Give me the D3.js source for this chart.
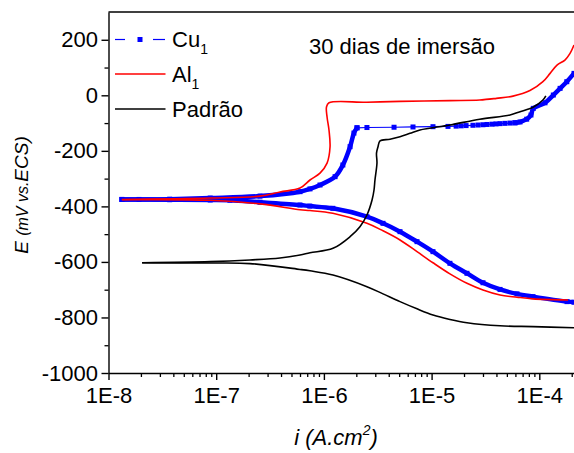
<!DOCTYPE html>
<html>
<head>
<meta charset="utf-8">
<script src="https://cdn.jsdelivr.net/npm/d3@7"></script>
<style>
  body { margin: 0; background: #fff; }
  svg text { font-family: "Liberation Sans", Arial, sans-serif; fill: #000; }
</style>
</head>
<body>
<div id="chart"></div>
<script>
const width = 574;
const height = 453;

// dados: [i (A/cm2), E (mV vs. ECS)]
const cuCathodic = [
  [1.33e-8, -375], [3.7e-8, -376], [8.8e-8, -377], [1.34e-7, -378], [2.55e-7, -385],
  [6.0e-7, -395], [7.4e-7, -399], [1.21e-6, -407], [2.51e-6, -437], [3.54e-6, -461],
  [5.09e-6, -491], [7.32e-6, -527], [1.03e-5, -563], [1.48e-5, -605], [2.13e-5, -641],
  [3.0e-5, -675], [4.32e-5, -699], [6.21e-5, -715], [8.74e-5, -725], [1.81e-4, -743],
  [2.1e-4, -745]
];
const cuAnodic = [
  [1.33e-8, -375], [1.92e-8, -375], [3.7e-8, -374], [8.8e-8, -370], [2.55e-7, -363],
  [6.0e-7, -347], [7.43e-7, -337], [9.2e-7, -323], [1.27e-6, -293], [1.5e-6, -251],
  [1.75e-6, -185], [1.9e-6, -136], [2.03e-6, -117]
];
const cuPlateau = [
  [2.03e-6, -117], [2.51e-6, -116], [4.48e-6, -115], [6.72e-6, -114], [1.03e-5, -113],
  [1.42e-5, -112], [1.69e-5, -111], [1.88e-5, -110], [2.09e-5, -109], [2.42e-5, -108],
  [2.7e-5, -107], [3.0e-5, -106], [3.27e-5, -105], [3.64e-5, -104], [3.96e-5, -103],
  [4.32e-5, -102], [4.8e-5, -101], [5.35e-5, -100], [5.95e-5, -99]
];
const cuPitting = [
  [5.95e-5, -99], [6.62e-5, -96], [7.64e-5, -86], [8.37e-5, -71], [8.8e-5, -47],
  [1.13e-4, -27], [1.35e-4, 1], [1.56e-4, 25], [1.8e-4, 49], [2.1e-4, 79]
];

const alCathodic = [
  [1.33e-8, -376], [8.8e-8, -378], [2.55e-7, -391], [6.0e-7, -412], [7.43e-7, -415],
  [1.21e-6, -425], [2.51e-6, -461], [3.54e-6, -488], [5.09e-6, -521], [7.32e-6, -563],
  [1.03e-5, -603], [1.48e-5, -643], [2.13e-5, -677], [3.0e-5, -701], [4.32e-5, -719],
  [6.21e-5, -727], [8.74e-5, -733], [1.85e-4, -737]
];
const alAnodic = [
  [1.33e-8, -375], [8.8e-8, -370], [2.55e-7, -363], [3.91e-7, -348], [6.0e-7, -334],
  [7.43e-7, -305], [9.2e-7, -280], [1.07e-6, -244], [1.14e-6, -186], [1.115e-6, -125],
  [1.07e-6, -78], [1.057e-6, -42], [1.115e-6, -27], [2.5e-6, -25], [5.09e-6, -22],
  [1.48e-5, -19], [2.8e-5, -17], [4.0e-5, -11], [5.7e-5, -3], [8.19e-5, 17],
  [1.08e-4, 49], [1.26e-4, 79], [1.46e-4, 109], [1.73e-4, 127], [1.93e-4, 151],
  [2.1e-4, 181]
];

const padCathodic = [
  [2.05e-8, -603], [8.8e-8, -604], [2.06e-7, -606], [6.0e-7, -627], [7.43e-7, -632],
  [1.215e-6, -647], [2.51e-6, -689], [3.54e-6, -715], [5.09e-6, -743], [7.32e-6, -769],
  [1.03e-5, -791], [1.48e-5, -807], [2.13e-5, -819], [4.32e-5, -830], [8.74e-5, -833],
  [2.1e-4, -837]
];
const padAnodic = [
  [2.05e-8, -603], [8.8e-8, -599], [2.06e-7, -593], [3.91e-7, -586], [6.0e-7, -575],
  [7.43e-7, -567], [1.215e-6, -551], [1.75e-6, -509], [2.16e-6, -473], [2.51e-6, -431],
  [2.8e-6, -377], [2.92e-6, -341], [2.98e-6, -305], [3.11e-6, -244], [3.08e-6, -208],
  [3.18e-6, -185], [3.32e-6, -164], [4.11e-6, -158], [5.09e-6, -149], [6.3e-6, -137],
  [7.8e-6, -125], [1.48e-5, -107], [2.8e-5, -86], [5.35e-5, -71], [6.62e-5, -59],
  [8.74e-5, -43], [1.08e-4, -17], [1.15e-4, -2]
];

const xTicks = [1e-8, 1e-7, 1e-6, 1e-5, 1e-4];
const yTicks = [-1000, -800, -600, -400, -200, 0, 200];
const yMinor = [-900, -700, -500, -300, -100, 100];
const legendNames = ["Cu", "Al", "Padrão"];
const legendSubs = ["1", "1", ""];
const colors = ["#0000ff", "#ff0000", "#000000"];

const svg = d3.select("#chart").append("svg")
  .attr("width", width)
  .attr("height", height);

const x = d3.scaleLog().domain([1e-8, 2.1e-4]).range([108.5, 574]);
const y = d3.scaleLinear().domain([-1000, 300]).range([373, 12]);

// ticks secundários do eixo x (2..9 em cada década)
const xMinor = [];
xTicks.forEach(d => {
  for (let k = 2; k <= 9; k++) if (k * d <= 2.1e-4) xMinor.push(k * d);
});

// eixos
svg.append("g")
  .attr("transform", "translate(0,373)")
  .call(d3.axisBottom(x).tickValues(xMinor).tickFormat("").tickSize(4).tickSizeOuter(0))
  .call(g => g.select(".domain").remove())
  .selectAll("line").attr("stroke-width", 1.3);

svg.append("g")
  .attr("transform", "translate(0,373)")
  .call(d3.axisBottom(x).tickValues(xTicks).tickFormat(d => "1E" + Math.round(Math.log10(d)))
    .tickSize(7).tickPadding(7).tickSizeOuter(0))
  .call(g => g.selectAll("text").attr("font-size", 22).attr("font-family", null))
  .call(g => g.selectAll("line,path").attr("stroke-width", 1.4));

svg.append("g")
  .attr("transform", "translate(108.5,0)")
  .call(d3.axisLeft(y).tickValues(yMinor).tickFormat("").tickSize(4).tickSizeOuter(0))
  .call(g => g.select(".domain").remove())
  .selectAll("line").attr("stroke-width", 1.3);

svg.append("g")
  .attr("transform", "translate(108.5,0)")
  .call(d3.axisLeft(y).tickValues(yTicks).tickFormat(d => String(d))
    .tickSize(7).tickPadding(3.5).tickSizeOuter(0))
  .call(g => g.selectAll("text").attr("font-size", 22).attr("font-family", null))
  .call(g => g.selectAll("line,path").attr("stroke-width", 1.4));

// moldura superior
svg.append("line")
  .attr("x1", 108.5).attr("x2", width)
  .attr("y1", 12).attr("y2", 12)
  .attr("stroke", "#000").attr("stroke-width", 1.4);

// curvas
const line = d3.line()
  .x(d => x(d[0]))
  .y(d => y(d[1]))
  .curve(d3.curveCatmullRom.alpha(0.5));

const plot = svg.append("g");

// Cu1: pontos densos formam uma faixa grossa
[cuCathodic, cuAnodic, cuPitting].forEach(s => {
  plot.append("path").attr("d", line(s))
    .attr("fill", "none").attr("stroke", colors[0]).attr("stroke-width", 4.5)
    .attr("stroke-linejoin", "round");
});
plot.append("path").attr("d", d3.line().x(d => x(d[0])).y(d => y(d[1]))(cuPlateau))
  .attr("fill", "none").attr("stroke", colors[0]).attr("stroke-width", 1.2);
plot.selectAll(".cu-pt")
  .data([...cuCathodic, ...cuAnodic, ...cuPlateau, ...cuPitting])
  .enter().append("rect")
  .attr("class", "cu-pt")
  .attr("x", d => x(d[0]) - 2.5)
  .attr("y", d => y(d[1]) - 2.5)
  .attr("width", 5).attr("height", 5)
  .attr("fill", colors[0]);

[alCathodic, alAnodic].forEach(s => {
  plot.append("path").attr("d", line(s))
    .attr("fill", "none").attr("stroke", colors[1]).attr("stroke-width", 1.6);
});
[padCathodic, padAnodic].forEach(s => {
  plot.append("path").attr("d", line(s))
    .attr("fill", "none").attr("stroke", colors[2]).attr("stroke-width", 1.6);
});

// legenda
const legend = svg.append("g");
legendNames.forEach((name, i) => {
  const ly = [39.5, 74, 109][i];
  const g = legend.append("g").attr("transform", `translate(0,${ly})`);
  if (i === 0) {
    g.append("line").attr("x1", 115).attr("x2", 125).attr("stroke", colors[0]).attr("stroke-width", 1.2);
    g.append("line").attr("x1", 153).attr("x2", 165).attr("stroke", colors[0]).attr("stroke-width", 1.2);
    g.append("rect").attr("x", 137.5).attr("y", -2.5).attr("width", 5).attr("height", 5).attr("fill", colors[0]);
  } else {
    g.append("line").attr("x1", 115).attr("x2", 165.5).attr("stroke", colors[i]).attr("stroke-width", 1.6);
  }
  const t = g.append("text").attr("x", 172).attr("y", 7.5).attr("font-size", 22).text(name);
  if (legendSubs[i]) {
    t.append("tspan").attr("font-size", 14).attr("dy", 7).text(legendSubs[i]);
  }
});

svg.append("text")
  .attr("x", 309).attr("y", 54)
  .attr("font-size", 22)
  .text("30 dias de imersão");

// títulos dos eixos
const xt = svg.append("text")
  .attr("x", 336).attr("y", 445)
  .attr("text-anchor", "middle")
  .attr("font-size", 22)
  .attr("font-style", "italic");
xt.append("tspan").text("i (A.cm");
xt.append("tspan").attr("font-size", 14).attr("dy", -10).text("2");
xt.append("tspan").attr("dy", 10).text(")");

const yt = svg.append("text")
  .attr("transform", "translate(27.5,195) rotate(-90)")
  .attr("text-anchor", "middle")
  .attr("font-style", "italic");
yt.append("tspan").attr("font-size", 19).text("E ");
yt.append("tspan").attr("font-size", 16).text("(mV vs.");
yt.append("tspan").attr("font-size", 19).text("ECS)");
</script>
</body>
</html>
